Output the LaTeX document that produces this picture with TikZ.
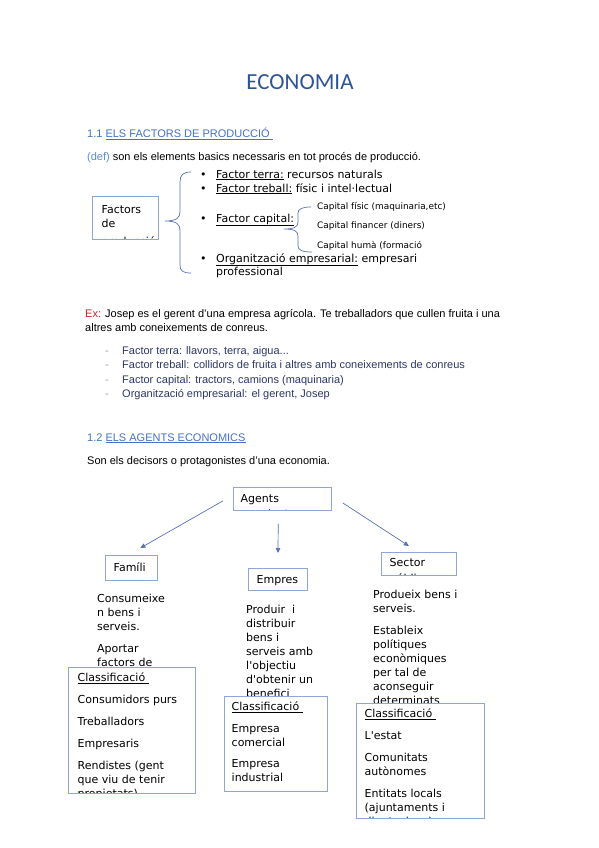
\documentclass[tikz,border=0pt]{standalone}
\usepackage{fontspec}
\setmainfont{Liberation Sans}
\newfontfamily\boxfont{DejaVu Sans}
\newfontfamily\headfont{Carlito}
\usetikzlibrary{arrows.meta}

\definecolor{titleblue}{RGB}{47,84,150}
\definecolor{headblue}{RGB}{68,114,196}
\definecolor{defblue}{RGB}{91,140,210}
\definecolor{exred}{RGB}{205,35,35}
\definecolor{listblue}{RGB}{45,55,105}
\definecolor{dashgray}{RGB}{150,160,185}
\definecolor{boxline}{RGB}{143,167,212}
\definecolor{linkblue}{RGB}{85,115,180}

% fixed height of a first line
\newcommand\fl{\rule{0pt}{9pt}}

\tikzset{
  body/.style={anchor=base west, inner sep=0pt, font=\fontsize{11}{14}\selectfont},
  boxtxt/.style={anchor=base west, inner sep=0pt, font=\boxfont\fontsize{11}{14}\selectfont},
  smalltxt/.style={anchor=base west, inner sep=0pt, font=\boxfont\fontsize{8.9}{10}\selectfont},
  para/.style={anchor=north west, inner sep=0pt, align=left, draw=none, fill=none,
    minimum width=0pt, minimum height=0pt,
    font=\boxfont\fontsize{11}{14}\selectfont},
  capbox/.style={draw=boxline, fill=white, line width=0.7pt, anchor=north west, inner sep=0pt},
  inside/.style n args={3}{path picture={%
    \node[para] at ([shift={(#1,#2)}]path picture bounding box.north west) {\fl #3};}},
  brace/.style={draw=linkblue, line width=0.7pt},
  link/.style={draw=linkblue, line width=0.7pt, -{Triangle[length=5pt,width=4.5pt]}},
}

\begin{document}
\begin{tikzpicture}[x=1pt, y=1pt]
\useasboundingbox (0,0) rectangle (599,-848);
\fill[white] (0,0) rectangle (599,-848);

% title and 1.1
\node[anchor=base, inner sep=0pt, font=\headfont\fontsize{23}{28}\selectfont, text=titleblue]
  (title) at (300,-90) {ECONOMIA};
\node[body, text=headblue] (head1) at (87,-138) {1.1 \underline{ELS FACTORS DE PRODUCCIÓ\ }};
\node[body] (def) at (87,-160)
  {\textcolor{defblue}{(def)} son els elements basics necessaris en tot procés de producció.};

\node[capbox, minimum width=66, minimum height=43,
  inside={9}{-8}{Factors\\de\\[4pt]producció}] (factors) at (92,-196) {};

% big brace
\draw[brace]
     (191,-172) .. controls (183,-172) and (180,-175) .. (180,-182)
  -- (180,-212) .. controls (180,-218) and (176,-221) .. (165,-221)
     .. controls (176,-221) and (180,-224) .. (180,-230)
  -- (180,-265) .. controls (180,-271) and (183,-273) .. (191,-273);

\foreach \y in {178,192,222,262}
  \node[boxtxt] at (200,-\y) {•};
\node[boxtxt] (terra) at (216,-178) {\underline{Factor terra:} recursos naturals};
\node[boxtxt] (treball) at (216,-192) {\underline{Factor treball:} físic i intel·lectual};
\node[boxtxt] (capital) at (216,-222) {\underline{Factor capital:}};
\node[boxtxt] (organit) at (216,-262) {\underline{Organització empresarial:} empresari};
\node[boxtxt] (prof) at (216,-275) {professional};

% small brace
\draw[brace]
     (311,-207) .. controls (302,-207) and (298,-209) .. (298,-213)
  -- (298,-222) .. controls (298,-227) and (294,-229) .. (284,-229)
     .. controls (294,-229) and (298,-231) .. (298,-236)
  -- (298,-246) .. controls (298,-250) and (302,-252) .. (312,-252);

\node[smalltxt] (fisic) at (317,-209) {Capital físic (maquinaria,etc)};
\node[smalltxt] (financer) at (317,-228) {Capital financer (diners)};
\node[smalltxt] (huma) at (317,-248) {Capital humà (formació};

% example
\node[body] (ex1) at (85,-317)
  {\textcolor{exred}{Ex:} Josep es el gerent d’una empresa agrícola. Te treballadors que cullen fruita i una};
\node[body] (ex2) at (85,-331) {altres amb coneixements de conreus.};
\foreach \y/\t in {354/{Factor terra: llavors, terra, aigua...},
    368/{Factor treball: collidors de fruita i altres amb coneixements de conreus},
    383/{Factor capital: tractors, camions (maquinaria)},
    397/{Organització empresarial: el gerent, Josep}}
{
  \node[body, text=dashgray] at (105,-\y) {-};
  \node[body, text=listblue] at (122,-\y) {\t};
}

% 1.2
\node[body, text=headblue] (head2) at (87,-441) {1.2 \underline{ELS AGENTS ECONOMICS}};
\node[body] (intro) at (87,-464) {Son els decisors o protagonistes d’una economia.};

\node[capbox, minimum width=98, minimum height=23,
  inside={7}{-6}{Agents\\[2pt]econòmics}] (agents) at (233,-487) {};
\node[capbox, minimum width=52, minimum height=25,
  inside={8}{-7}{Famíli}] (familia) at (105,-555) {};
\node[capbox, minimum width=59, minimum height=22,
  inside={8}{-6}{Empres}] (empresa) at (248,-568) {};
\node[capbox, minimum width=75, minimum height=23,
  inside={8}{-5}{Sector\\[2pt]públic}] (sector) at (381,-552) {};

\draw[link] ([shift={(-10,-2)}]agents.west) -- ([shift={(9,7)}]familia.north);
\draw[link, shorten <=13pt, shorten >=15pt] ([xshift=-4]agents.south) -- (empresa.north);
\draw[link] ([shift={(11,-4)}]agents.east) -- ([shift={(-10,6)}]sector.north);

\node[para] (famdesc) at (97,-593)
  {\fl Consumeixe\\n bens i\\serveis.\\[8pt]Aportar\\factors de};
\node[para] (empdesc) at (246,-604)
  {\fl Produir\ \ i\\distribuir\\bens i\\serveis amb\\l\textquotesingle objectiu\\d\textquotesingle obtenir un\\benefici};
\node[para] (secdesc) at (373,-589)
  {\fl Produeix bens i\\serveis.\\[8pt]Estableix\\polítiques\\econòmiques\\per tal de\\aconseguir\\determinats};

\node[capbox, minimum width=127, minimum height=126,
  inside={9}{-5}{\underline{Classificació\ }\\[8pt]Consumidors purs\\[8pt]Treballadors\\[8pt]Empresaris\\[8pt]Rendistes (gent\\que viu de tenir\\propietats)}]
  (famclass) at (68,-667) {};
\node[capbox, minimum width=103, minimum height=95,
  inside={7}{-5}{\underline{Classificació\ }\\[8pt]Empresa\\comercial\\[7pt]Empresa\\industrial}]
  (empclass) at (224,-696) {};
\node[capbox, minimum width=128, minimum height=115,
  inside={8}{-5}{\underline{Classificació\ }\\[8pt]L\textquotesingle estat\\[8pt]Comunitats\\autònomes\\[8pt]Entitats locals\\(ajuntaments i\\diputacions)}]
  (secclass) at (356,-703) {};
\end{tikzpicture}
\end{document}
